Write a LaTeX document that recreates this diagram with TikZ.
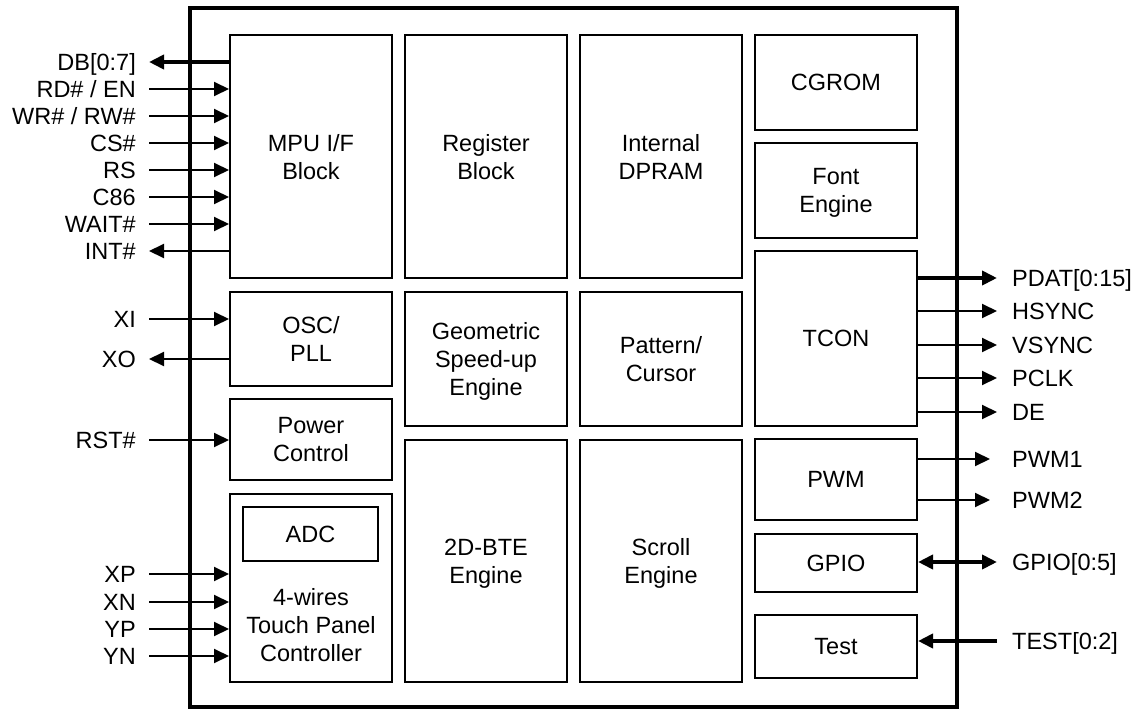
\documentclass[tikz,border=0pt]{standalone}
\usepackage{fontspec}
\setmainfont{Liberation Sans}
\usetikzlibrary{arrows.meta}
\tikzset{
  >={Triangle[length=15pt,width=14pt]},
  blk/.style={
    draw,
    line width=2pt,
    minimum width=162pt,
    inner sep=0pt,
    align=center,
    text depth=0pt
  },
  lsig/.style={anchor=east,inner xsep=13pt,inner ysep=0pt,text height=16.8pt,text depth=0pt},
  rsig/.style={anchor=west,inner xsep=15pt,inner ysep=0pt,text height=16.8pt,text depth=0pt},
  wire/.style={line width=2pt},
  bus/.style={line width=4pt}
}
\begin{document}
\begin{tikzpicture}[x=1pt,y=-1pt,font=\fontsize{23.5}{28}\selectfont]
\useasboundingbox (0,0) rectangle (1141,709);
\node (chip) [draw,line width=3.5pt,minimum width=767pt,minimum height=699pt,inner sep=0pt] at (573.5,357.5) {};
% first column
\node (mpu)    [blk,minimum height=243pt] at (311,156.5) {MPU I/F\\Block};
\node (osc)    [blk,minimum height=94pt]  at (311,339)   {OSC/\\PLL};
\node (power)  [blk,minimum height=81pt]  at (311,439.5) {Power\\Control};
\node (touch)  [blk,minimum height=188pt] at (311,588)   {};
\node (adc)    [blk,minimum width=135pt,minimum height=54pt] at (310.5,534) {ADC};
\node (touchtxt) [align=center,inner sep=0pt,text depth=0pt] at (311,625) {4-wires\\Touch Panel\\Controller};
% middle columns
\node (reg)    [blk,minimum height=243pt] at (486,156.5) {Register\\Block};
\node (dpram)  [blk,minimum height=243pt] at (661,156.5) {Internal\\DPRAM};
\node (geo)    [blk,minimum height=134pt] at (486,359)   {Geometric\\Speed-up\\Engine};
\node (pat)    [blk,minimum height=134pt] at (661,359)   {Pattern/\\Cursor};
\node (bte)    [blk,minimum height=242pt] at (486,561)   {2D-BTE\\Engine};
\node (scroll) [blk,minimum height=242pt] at (661,561)   {Scroll\\Engine};
% last column
\node (cgrom)  [blk,minimum height=95pt]  at (836,82.5)  {CGROM};
\node (font)   [blk,minimum height=95pt]  at (836,190.5) {Font\\Engine};
\node (tcon)   [blk,minimum height=175pt] at (836,338.5) {TCON};
\node (pwm)    [blk,minimum height=81pt]  at (836,479.5) {PWM};
\node (gpio)   [blk,minimum height=58pt]  at (836,563)   {GPIO};
\node (test)   [blk,minimum height=63pt]  at (836,646.5) {Test};
% left pins
\node (db)   [lsig] at (149,62)  {DB[0:7]};
\node (rd)   [lsig] at (149,89)  {RD\# / EN};
\node (wr)   [lsig] at (149,116) {WR\# / RW\#};
\node (cs)   [lsig] at (149,143) {CS\#};
\node (rs)   [lsig] at (149,170) {RS};
\node (c86)  [lsig] at (149,197) {C86};
\node (wait) [lsig] at (149,224) {WAIT\#};
\node (int)  [lsig] at (149,251) {INT\#};
\node (xi)   [lsig] at (149,319) {XI};
\node (xo)   [lsig] at (149,359) {XO};
\node (rst)  [lsig] at (149,440) {RST\#};
\node (xp)   [lsig] at (149,574) {XP};
\node (xn)   [lsig] at (149,602) {XN};
\node (yp)   [lsig] at (149,629) {YP};
\node (yn)   [lsig] at (149,656) {YN};
\draw[bus,->]  (db.east -| mpu.west) -- (db.east);
\draw[wire,->] (rd.east) -- (rd.east -| mpu.west);
\draw[wire,->] (wr.east) -- (wr.east -| mpu.west);
\draw[wire,->] (cs.east) -- (cs.east -| mpu.west);
\draw[wire,->] (rs.east) -- (rs.east -| mpu.west);
\draw[wire,->] (c86.east) -- (c86.east -| mpu.west);
\draw[wire,->] (wait.east) -- (wait.east -| mpu.west);
\draw[wire,->] (int.east -| mpu.west) -- (int.east);
\draw[wire,->] (xi.east) -- (xi.east -| osc.west);
\draw[wire,->] (xo.east -| osc.west) -- (xo.east);
\draw[wire,->] (rst.east) -- (rst.east -| power.west);
\draw[wire,->] (xp.east) -- (xp.east -| touch.west);
\draw[wire,->] (xn.east) -- (xn.east -| touch.west);
\draw[wire,->] (yp.east) -- (yp.east -| touch.west);
\draw[wire,->] (yn.east) -- (yn.east -| touch.west);
% right pins
\node (pdat)  [rsig] at (997,278) {PDAT[0:15]};
\node (hsync) [rsig] at (997,311) {HSYNC};
\node (vsync) [rsig] at (997,345) {VSYNC};
\node (pclk)  [rsig] at (997,378) {PCLK};
\node (de)    [rsig] at (997,412) {DE};
\node (pwm1)  [rsig] at (997,459) {PWM1};
\node (pwm2)  [rsig] at (997,500) {PWM2};
\node (gp)    [rsig] at (997,562) {GPIO[0:5]};
\node (ts)    [rsig] at (997,641) {TEST[0:2]};
\draw[bus,->]  (pdat.west -| tcon.east) -- (pdat.west);
\draw[wire,->] (hsync.west -| tcon.east) -- (hsync.west);
\draw[wire,->] (vsync.west -| tcon.east) -- (vsync.west);
\draw[wire,->] (pclk.west -| tcon.east) -- (pclk.west);
\draw[wire,->] (de.west -| tcon.east) -- (de.west);
\draw[wire,->] (pwm1.west -| pwm.east) -- ([xshift=-7pt]pwm1.west);
\draw[wire,->] (pwm2.west -| pwm.east) -- ([xshift=-7pt]pwm2.west);
\draw[bus,<->] (gp.west -| gpio.east) -- (gp.west);
\draw[bus,->]  (ts.west) -- (ts.west -| test.east);
\end{tikzpicture}
\end{document}
